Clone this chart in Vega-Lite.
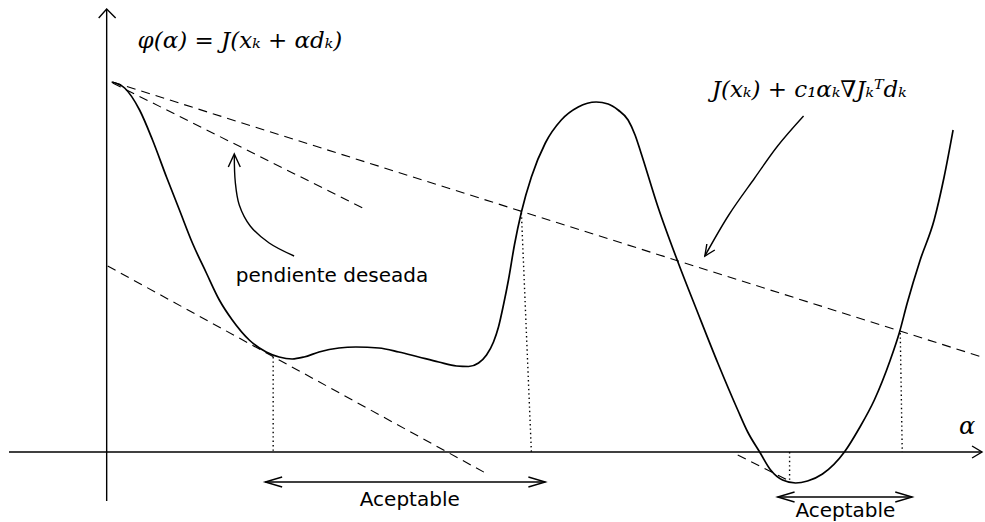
{
  "$schema": "https://vega.github.io/schema/vega-lite/v6.json",
  "width": 985,
  "height": 522,
  "padding": 0,
  "autosize": {"type": "fit", "contains": "padding"},
  "background": "white",
  "config": {"view": {"stroke": null}},
  "datasets": {
    "curve": [
      {"x":112,"y":82},{"x":125,"y":88},{"x":140,"y":110},{"x":153,"y":140},{"x":167,"y":177},{"x":180,"y":210},{"x":193,"y":243},{"x":207,"y":273},{"x":220,"y":300},{"x":233,"y":320},{"x":250,"y":340},{"x":267,"y":352},{"x":280,"y":357},{"x":293,"y":359},{"x":305,"y":357},{"x":320,"y":352},{"x":340,"y":348},{"x":357,"y":347},{"x":380,"y":348},{"x":400,"y":352},{"x":420,"y":357},{"x":440,"y":362},{"x":458,"y":366},{"x":470,"y":366.5},{"x":480,"y":363},{"x":488,"y":355},{"x":495,"y":342},{"x":500,"y":327},{"x":505,"y":305},{"x":510,"y":280},{"x":516,"y":245},{"x":523,"y":212},{"x":533,"y":177},{"x":547,"y":143},{"x":563,"y":120},{"x":580,"y":107},{"x":598,"y":102},{"x":610,"y":104},{"x":620,"y":110},{"x":630,"y":120},{"x":637,"y":135},{"x":643,"y":153},{"x":660,"y":207},{"x":680,"y":262},{"x":700,"y":313},{"x":720,"y":363},{"x":740,"y":410},{"x":750,"y":432},{"x":762,"y":452},{"x":773,"y":470},{"x":785,"y":480},{"x":798,"y":483},{"x":810,"y":481},{"x":825,"y":474},{"x":847,"y":452},{"x":862,"y":428},{"x":877,"y":400},{"x":893,"y":360},{"x":902,"y":333},{"x":910,"y":303},{"x":923,"y":260},{"x":937,"y":220},{"x":947,"y":177},{"x":956,"y":130}
    ],
    "solid": [
      {"id":"axX","o":0,"x":9,"y":452},{"id":"axX","o":1,"x":985,"y":452},
      {"id":"axY","o":0,"x":107,"y":501},{"id":"axY","o":1,"x":107,"y":9},
      {"id":"hY","o":0,"x":99,"y":18},{"id":"hY","o":1,"x":107,"y":9},{"id":"hY","o":2,"x":116,"y":18},
      {"id":"hX","o":0,"x":975,"y":446},{"id":"hX","o":1,"x":985,"y":452},{"id":"hX","o":2,"x":975,"y":458},
      {"id":"a1","o":0,"x":266,"y":482},{"id":"a1","o":1,"x":547,"y":482},
      {"id":"a1l","o":0,"x":283,"y":477},{"id":"a1l","o":1,"x":266,"y":482},{"id":"a1l","o":2,"x":283,"y":487},
      {"id":"a1r","o":0,"x":530,"y":477},{"id":"a1r","o":1,"x":547,"y":482},{"id":"a1r","o":2,"x":530,"y":487},
      {"id":"a2","o":0,"x":780,"y":497},{"id":"a2","o":1,"x":915,"y":497},
      {"id":"a2l","o":0,"x":797,"y":492},{"id":"a2l","o":1,"x":780,"y":497},{"id":"a2l","o":2,"x":797,"y":502},
      {"id":"a2r","o":0,"x":898,"y":492},{"id":"a2r","o":1,"x":915,"y":497},{"id":"a2r","o":2,"x":898,"y":502},
      {"id":"hF","o":0,"x":709,"y":244},{"id":"hF","o":1,"x":707,"y":256},{"id":"hF","o":2,"x":717,"y":250},
      {"id":"hP","o":0,"x":229,"y":167},{"id":"hP","o":1,"x":235,"y":154},{"id":"hP","o":2,"x":241,"y":167}
    ],
    "bent": [
      {"id":"cF","o":0,"x":806,"y":116},{"id":"cF","o":1,"x":780,"y":146},{"id":"cF","o":2,"x":757,"y":178},{"id":"cF","o":3,"x":731,"y":215},{"id":"cF","o":4,"x":707,"y":256},
      {"id":"cP","o":0,"x":295,"y":256},{"id":"cP","o":1,"x":270,"y":243},{"id":"cP","o":2,"x":251,"y":226},{"id":"cP","o":3,"x":240,"y":205},{"id":"cP","o":4,"x":236,"y":182},{"id":"cP","o":5,"x":235,"y":155}
    ],
    "dashed": [
      {"id":"d1","o":0,"x":113,"y":82},{"id":"d1","o":1,"x":985,"y":357},
      {"id":"d2","o":0,"x":113,"y":83},{"id":"d2","o":1,"x":364,"y":208},
      {"id":"d3","o":0,"x":108,"y":266},{"id":"d3","o":1,"x":487,"y":473},
      {"id":"d4","o":0,"x":740,"y":455},{"id":"d4","o":1,"x":790,"y":480}
    ],
    "dotted": [
      {"id":"t1","o":0,"x":274,"y":357},{"id":"t1","o":1,"x":274,"y":452},
      {"id":"t2","o":0,"x":523,"y":213},{"id":"t2","o":1,"x":533,"y":452},
      {"id":"t3","o":0,"x":792,"y":452},{"id":"t3","o":1,"x":792,"y":481},
      {"id":"t4","o":0,"x":903,"y":333},{"id":"t4","o":1,"x":905,"y":452}
    ],
    "sans": [
      {"x":333,"y":282,"t":"pendiente deseada"},
      {"x":411,"y":506,"t":"Aceptable"},
      {"x":848,"y":517,"t":"Aceptable"}
    ],
    "serif": [
      {"x":138,"y":48,"t":"φ(α) = J(xₖ  +  αdₖ)"},
      {"x":714,"y":97,"t":"J(xₖ) + c₁αₖ∇Jₖᵀdₖ"}
    ],
    "alpha": [
      {"x":962,"y":434,"t":"α"}
    ]
  },
  "encoding": {
    "x": {"field": "x", "type": "quantitative", "scale": {"domain": [0, 985], "nice": false, "zero": false}, "axis": null},
    "y": {"field": "y", "type": "quantitative", "scale": {"domain": [0, 522], "nice": false, "zero": false, "reverse": true}, "axis": null}
  },
  "layer": [
    {
      "data": {"name": "curve"},
      "mark": {"type": "line", "color": "black", "strokeWidth": 1.7, "interpolate": "monotone"},
      "encoding": {}
    },
    {
      "data": {"name": "solid"},
      "mark": {"type": "line", "color": "black", "strokeWidth": 1.4},
      "encoding": {"detail": {"field": "id"}, "order": {"field": "o"}}
    },
    {
      "data": {"name": "bent"},
      "mark": {"type": "line", "color": "black", "strokeWidth": 1.4, "interpolate": "catmull-rom"},
      "encoding": {"detail": {"field": "id"}, "order": {"field": "o"}}
    },
    {
      "data": {"name": "dashed"},
      "mark": {"type": "line", "color": "black", "strokeWidth": 1.1, "strokeDash": [9, 6]},
      "encoding": {"detail": {"field": "id"}, "order": {"field": "o"}}
    },
    {
      "data": {"name": "dotted"},
      "mark": {"type": "line", "color": "black", "strokeWidth": 1.4, "strokeDash": [1.4, 3]},
      "encoding": {"detail": {"field": "id"}, "order": {"field": "o"}}
    },
    {
      "data": {"name": "sans"},
      "mark": {"type": "text", "font": "DejaVu Sans", "fontSize": 20, "align": "center", "baseline": "alphabetic", "color": "black"},
      "encoding": {"text": {"field": "t"}}
    },
    {
      "data": {"name": "serif"},
      "mark": {"type": "text", "font": "DejaVu Serif", "fontStyle": "italic", "fontSize": 23, "align": "left", "baseline": "alphabetic", "color": "black"},
      "encoding": {"text": {"field": "t"}}
    },
    {
      "data": {"name": "alpha"},
      "mark": {"type": "text", "font": "DejaVu Serif", "fontStyle": "italic", "fontSize": 24, "align": "left", "baseline": "alphabetic", "color": "black"},
      "encoding": {"text": {"field": "t"}}
    }
  ]
}
